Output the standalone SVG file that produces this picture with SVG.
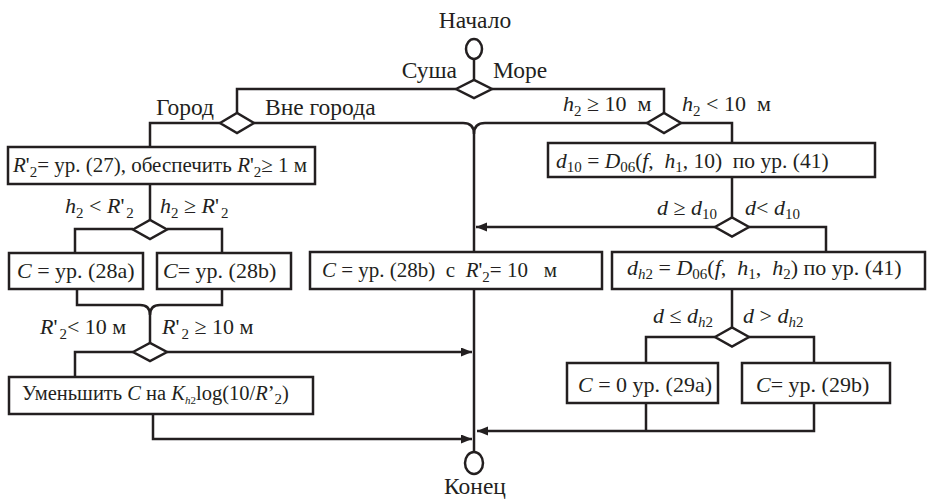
<svg xmlns="http://www.w3.org/2000/svg" width="935" height="499" viewBox="0 0 935 499" xml:space="preserve">
<style>
text{font-family:"Liberation Serif","DejaVu Serif",serif;font-size:22px;fill:#231f20;white-space:pre}
.L{font-size:23.5px}
.i{font-style:italic}
.s{font-size:15px}
.ln{fill:none;stroke:#231f20;stroke-width:2.5}
.bx{fill:#fff;stroke:#231f20;stroke-width:2.5}
</style>
<defs>
<marker id="ar" markerUnits="userSpaceOnUse" markerWidth="12" markerHeight="10" refX="11" refY="4.5" orient="auto">
<path d="M0,0 L11,4.5 L0,9 z" fill="#231f20"/>
</marker>
</defs>
<g id="connectors">
<path class="ln" d="M474,59 V80"/>
<path class="ln" d="M456,89 H237 V113"/>
<path class="ln" d="M492,89 H664 V113"/>
<path class="ln" d="M220,123 H150 V147"/>
<path class="ln" d="M254,123 H463 Q474,123 474,134"/>
<path class="ln" d="M647,123 H485 Q474,123 474,134"/>
<path class="ln" d="M474,134 V252"/>
<path class="ln" d="M474,289 V452"/>
<path class="ln" d="M681,123 H732 V143"/>
<path class="ln" d="M732,177 V217.5"/>
<path class="ln" d="M715,227 H476" marker-end="url(#ar)"/>
<path class="ln" d="M749,227 H826 V252"/>
<path class="ln" d="M732,289 V327.5"/>
<path class="ln" d="M715,337 H646 V363"/>
<path class="ln" d="M749,337 H814 V363"/>
<path class="ln" d="M646,403 V431"/>
<path class="ln" d="M814,403 V431 H477" marker-end="url(#ar)"/>
<path class="ln" d="M150,184 V220"/>
<path class="ln" d="M133,229 H75 V253"/>
<path class="ln" d="M167,229 H222 V253"/>
<path class="ln" d="M77,289 V305 H140 Q150,305 150,315"/>
<path class="ln" d="M222,289 V305 H160 Q150,305 150,315"/>
<path class="ln" d="M150,315 V343"/>
<path class="ln" d="M167,352 H472" marker-end="url(#ar)"/>
<path class="ln" d="M133,352 H75 V377"/>
<path class="ln" d="M153,414 V439 H472" marker-end="url(#ar)"/>
</g>
<g id="start">
<ellipse class="ln" cx="474" cy="49" rx="8" ry="10"/>
<text class="L" x="475" y="28" text-anchor="middle">Начало</text>
</g>
<g id="d-land-sea">
<path class="bx" d="M456,89 L474,80 L492,89 L474,98 Z"/>
<text class="L" x="457" y="78" text-anchor="end">Суша</text>
<text class="L" x="493" y="78">Море</text>
</g>
<g id="d-city">
<path class="bx" d="M220,123 L237,113 L254,123 L237,133 Z"/>
<text class="L" x="156" y="115">Город</text>
<text class="L" x="265" y="115">Вне города</text>
</g>
<g id="d-h2">
<path class="bx" d="M647,123 L664,113 L681,123 L664,133 Z"/>
<text x="563" y="111"><tspan class="i">h</tspan><tspan class="s" dy="5">2</tspan><tspan dy="-5"> ≥ 10  м</tspan></text>
<text x="682" y="111"><tspan class="i">h</tspan><tspan class="s" dy="5">2</tspan><tspan dy="-5"> &lt; 10  м</tspan></text>
</g>
<g id="b-r2">
<rect class="bx" x="8" y="147" width="307" height="37"/>
<text x="13" y="172" style="font-size:21px"><tspan class="i">R</tspan>'<tspan class="s" dy="5">2</tspan><tspan dy="-5">= ур. (27), обеспечить </tspan><tspan class="i">R</tspan>'<tspan class="s" dy="5">2</tspan><tspan dy="-5">≥ 1 м</tspan></text>
</g>
<g id="d-h2r2">
<path class="bx" d="M133,229.5 L150,220 L167,229.5 L150,239 Z"/>
<text x="65" y="213"><tspan class="i">h</tspan><tspan class="s" dy="5">2</tspan><tspan dy="-5"> &lt; </tspan><tspan class="i">R</tspan>'<tspan class="s" dx="2" dy="5">2</tspan></text>
<text x="160" y="213"><tspan class="i">h</tspan><tspan class="s" dy="5">2</tspan><tspan dy="-5"> ≥ </tspan><tspan class="i">R</tspan>'<tspan class="s" dx="2" dy="5">2</tspan></text>
</g>
<g id="b-28a">
<rect class="bx" x="9" y="253" width="134" height="36"/>
<text x="17" y="278"><tspan class="i">C</tspan> = ур. (28a)</text>
</g>
<g id="b-28b">
<rect class="bx" x="157" y="253" width="134" height="36"/>
<text x="163" y="278"><tspan class="i">C</tspan>= ур. (28b)</text>
</g>
<g id="d-r10">
<path class="bx" d="M133,352 L150,343 L167,352 L150,361 Z"/>
<text x="40" y="334"><tspan class="i">R</tspan>'<tspan class="s" dx="2" dy="5">2</tspan><tspan dy="-5">&lt; 10 м</tspan></text>
<text x="162" y="334"><tspan class="i">R</tspan>'<tspan class="s" dx="2" dy="5">2</tspan><tspan dy="-5"> ≥ 10 м</tspan></text>
</g>
<g id="b-reduce">
<rect class="bx" x="9" y="377" width="304" height="37"/>
<text x="22" y="400" style="font-size:20.5px">Уменьшить <tspan class="i">C</tspan> на <tspan class="i">K</tspan><tspan style="font-size:11px" dy="4"><tspan class="i">h</tspan>2</tspan><tspan dy="-4">log(10/</tspan><tspan class="i">R</tspan>’<tspan class="s" dy="4">2</tspan><tspan dy="-4">)</tspan></text>
</g>
<g id="b-d10">
<rect class="bx" x="548" y="143" width="327" height="34"/>
<text x="556" y="168" style="font-size:21.5px"><tspan class="i">d</tspan><tspan class="s" dy="4">10</tspan><tspan dy="-4"> = </tspan><tspan class="i">D</tspan><tspan class="s" dy="4">06</tspan><tspan dy="-4">(</tspan><tspan class="i">f</tspan>,  <tspan class="i">h</tspan><tspan class="s" dy="4">1</tspan><tspan dy="-4">, 10)  по ур. (41)</tspan></text>
</g>
<g id="d-d10">
<path class="bx" d="M715,227 L732,217.5 L749,227 L732,236.5 Z"/>
<text x="657" y="215"><tspan class="i">d</tspan> ≥ <tspan class="i">d</tspan><tspan class="s" dy="4">10</tspan></text>
<text x="745" y="215"><tspan class="i">d</tspan>&lt; <tspan class="i">d</tspan><tspan class="s" dy="4">10</tspan></text>
</g>
<g id="b-mid">
<rect class="bx" x="310" y="252" width="292" height="37"/>
<text x="322" y="277" style="font-size:21px"><tspan class="i">C</tspan> = ур. (28b)  с  <tspan class="i">R</tspan>'<tspan class="s" dy="5">2</tspan><tspan dy="-5">= 10   м</tspan></text>
</g>
<g id="b-dh2">
<rect class="bx" x="612" y="252" width="313" height="37"/>
<text x="627" y="275"><tspan class="i">d</tspan><tspan class="s i" dy="4">h</tspan><tspan class="s">2</tspan><tspan dy="-4"> = </tspan><tspan class="i">D</tspan><tspan class="s" dy="4">06</tspan><tspan dy="-4">(</tspan><tspan class="i">f</tspan>,  <tspan class="i">h</tspan><tspan class="s" dy="4">1</tspan><tspan dy="-4">,  </tspan><tspan class="i">h</tspan><tspan class="s" dy="4">2</tspan><tspan dy="-4">) по ур. (41)</tspan></text>
</g>
<g id="d-dh2">
<path class="bx" d="M715,337 L732,327.5 L749,337 L732,346.5 Z"/>
<text x="653" y="323"><tspan class="i">d</tspan> ≤ <tspan class="i">d</tspan><tspan class="s i" dy="4">h</tspan><tspan class="s">2</tspan></text>
<text x="743" y="323"><tspan class="i">d</tspan> &gt; <tspan class="i">d</tspan><tspan class="s i" dy="4">h</tspan><tspan class="s">2</tspan></text>
</g>
<g id="b-29a">
<rect class="bx" x="567" y="363" width="151" height="40"/>
<text x="578" y="392"><tspan class="i">C</tspan> = 0 ур. (29a)</text>
</g>
<g id="b-29b">
<rect class="bx" x="742" y="363" width="148" height="40"/>
<text x="756" y="392"><tspan class="i">C</tspan>= ур. (29b)</text>
</g>
<g id="end">
<ellipse class="ln" cx="474" cy="463" rx="9" ry="11"/>
<text class="L" x="475" y="494" text-anchor="middle">Конец</text>
</g>
</svg>
